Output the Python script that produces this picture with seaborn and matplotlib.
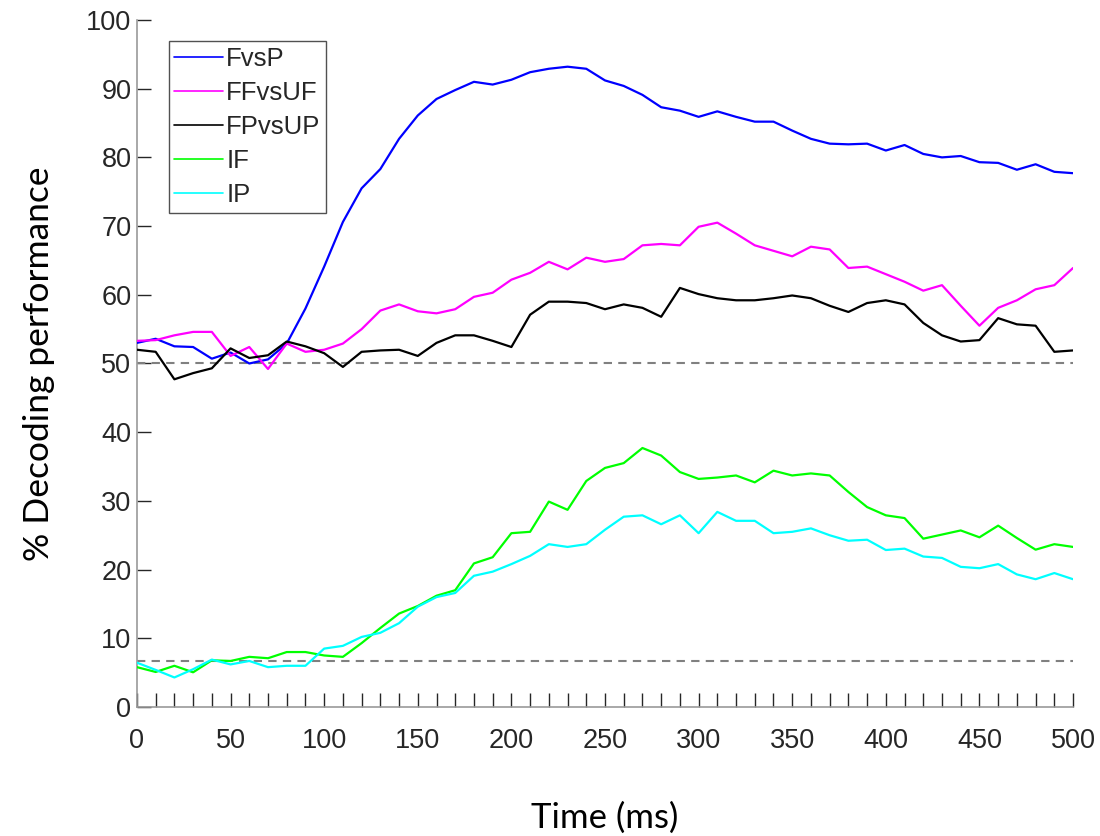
import numpy as np
import pandas as pd
import matplotlib
matplotlib.use("Agg")
import matplotlib.pyplot as plt
import seaborn as sns
from matplotlib.ticker import MultipleLocator

# ---- data ----
time_ms = list(range(0, 501, 10))

fvsp = [53.0, 53.6, 52.5, 52.4, 50.7, 51.6, 50.0, 50.6, 52.9, 58.0,
        64.1, 70.6, 75.5, 78.3, 82.7, 86.1, 88.5, 89.8, 91.0, 90.6,
        91.3, 92.4, 92.9, 93.2, 92.9, 91.2, 90.4, 89.1, 87.3, 86.8,
        85.9, 86.7, 85.9, 85.2, 85.2, 83.9, 82.7, 82.0, 81.9, 82.0,
        81.0, 81.8, 80.5, 80.0, 80.2, 79.3, 79.2, 78.2, 79.0, 77.9,
        77.7]
ffvsuf = [53.3, 53.4, 54.1, 54.6, 54.6, 51.1, 52.4, 49.2, 52.9, 51.7,
          52.0, 52.9, 55.0, 57.7, 58.6, 57.6, 57.3, 57.9, 59.7, 60.3,
          62.2, 63.2, 64.8, 63.7, 65.4, 64.8, 65.2, 67.2, 67.4, 67.2,
          69.9, 70.5, 68.9, 67.2, 66.4, 65.6, 67.0, 66.6, 63.9, 64.1,
          63.0, 61.9, 60.6, 61.4, 58.4, 55.5, 58.1, 59.2, 60.8, 61.4,
          63.9]
fpvsup = [52.0, 51.7, 47.7, 48.6, 49.3, 52.2, 50.8, 51.2, 53.2, 52.5,
          51.5, 49.5, 51.7, 51.9, 52.0, 51.1, 53.0, 54.1, 54.1, 53.3,
          52.4, 57.1, 59.0, 59.0, 58.8, 57.9, 58.6, 58.1, 56.8, 61.0,
          60.1, 59.5, 59.2, 59.2, 59.5, 59.9, 59.5, 58.4, 57.5, 58.8,
          59.2, 58.6, 55.9, 54.1, 53.2, 53.4, 56.6, 55.7, 55.5, 51.7,
          51.9]
if_vals = [5.8, 5.1, 6.0, 5.05, 6.8, 6.7, 7.3, 7.1, 8.0, 8.0,
           7.5, 7.3, 9.3, 11.5, 13.6, 14.7, 16.2, 17.0, 20.9, 21.8,
           25.3, 25.5, 29.9, 28.7, 32.9, 34.8, 35.5, 37.7, 36.6, 34.2,
           33.2, 33.4, 33.7, 32.7, 34.4, 33.7, 34.0, 33.7, 31.3, 29.1,
           27.9, 27.5, 24.5, 25.1, 25.7, 24.7, 26.4, 24.6, 22.9, 23.7,
           23.3]
ip_vals = [6.45, 5.4, 4.3, 5.5, 6.9, 6.2, 6.7, 5.8, 6.0, 6.0,
           8.5, 8.9, 10.2, 10.8, 12.2, 14.6, 16.0, 16.6, 19.1, 19.7,
           20.8, 22.0, 23.7, 23.3, 23.7, 25.8, 27.7, 27.9, 26.6, 27.9,
           25.3, 28.4, 27.1, 27.1, 25.3, 25.5, 26.0, 25.0, 24.2, 24.35,
           22.85, 23.05, 21.9, 21.7, 20.4, 20.2, 20.8, 19.3, 18.6, 19.5,
           18.6]

series_names = ["FvsP", "FFvsUF", "FPvsUP", "IF", "IP"]
series_vals = [fvsp, ffvsuf, fpvsup, if_vals, ip_vals]
series_colors = ["#0000ff", "#ff00ff", "#000000", "#00ff00", "#00ffff"]
chance_levels = [50.0, 100.0 / 15.0]

x_ticks = list(range(0, 501, 50))
y_ticks = list(range(0, 101, 10))

df = pd.concat(
    [pd.DataFrame({"Time": time_ms, "value": v, "series": n})
     for n, v in zip(series_names, series_vals)],
    ignore_index=True)

# ---- style ----
sns.set_style("ticks")
plt.rcParams["font.family"] = ["Liberation Sans", "DejaVu Sans"]

fig = plt.figure(figsize=(11, 8.36), dpi=100)
ax = fig.add_axes([0.1245, 0.1543, 0.851, 0.8218])

for lvl in chance_levels:
    ax.axhline(lvl, color="#808080", linestyle=(0, (4, 3)), linewidth=1.5, zorder=1)

sns.lineplot(data=df, x="Time", y="value", hue="series",
             hue_order=series_names, palette=dict(zip(series_names, series_colors)),
             linewidth=1.6, ax=ax, legend=True, zorder=3)

ax.set_xlim(0, 500)
ax.set_ylim(0, 100)
ax.set_xticks(x_ticks)
ax.set_yticks(y_ticks)
ax.xaxis.set_minor_locator(MultipleLocator(10))

tick_col = "#262626"
ax.tick_params(axis="both", which="both", direction="in", length=10,
               width=1.0, color=tick_col, labelcolor=tick_col, labelsize=19.5)
ax.tick_params(axis="x", which="major", pad=15)
ax.tick_params(axis="y", which="major", pad=4)
ax.tick_params(axis="y", which="minor", length=0)

for s in ["top", "right"]:
    ax.spines[s].set_visible(False)
for s in ["left", "bottom"]:
    ax.spines[s].set_color("#9a9a9a")
    ax.spines[s].set_linewidth(1.2)

ax.set_xlabel("Time (ms)", fontsize=25, family=["Lato", "DejaVu Sans"], color="black")
ax.set_ylabel("% Decoding performance", fontsize=25.5, family=["Lato", "DejaVu Sans"], color="black")
ax.xaxis.set_label_coords(0.5, -0.137)
ax.yaxis.set_label_coords(-0.088, 0.5)

handles, labels = ax.get_legend_handles_labels()
leg = ax.legend(handles, labels, loc="upper left", bbox_to_anchor=(0.034, 0.969),
                borderaxespad=0, frameon=True, fancybox=False, fontsize=18.5,
                handlelength=1.9, handletextpad=0.12, labelspacing=0.39,
                borderpad=0.22)
leg.get_frame().set_edgecolor("#262626")
leg.get_frame().set_linewidth(1.0)
for ln in leg.get_lines():
    ln.set_linewidth(1.2)

fig.savefig("out.png", dpi=100)
